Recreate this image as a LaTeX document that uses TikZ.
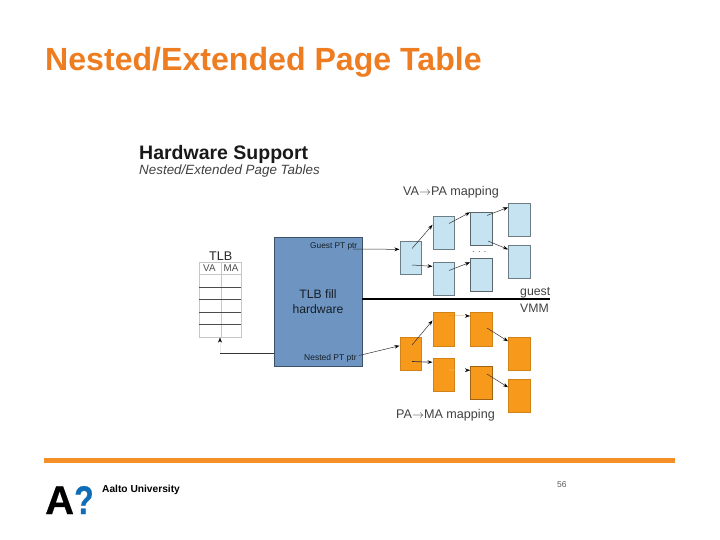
\documentclass[tikz,border=0pt]{standalone}
\usepackage{fontspec}
\usepackage{graphicx}
\setmainfont{Liberation Sans}
\newfontfamily\logofont[FakeBold=0.5]{Liberation Sans Bold}
\usetikzlibrary{arrows.meta,calc}
\definecolor{titleor}{HTML}{EE7D22}
\definecolor{baror}{HTML}{F59028}
\definecolor{pgblue}{HTML}{C6E3F1}
\definecolor{pgor}{HTML}{F79A1B}
\definecolor{fillblue}{HTML}{6E95C1}
\definecolor{logoblue}{HTML}{0F6CB6}
\tikzset{
  lbl/.style={inner sep=0pt,anchor=base west},
  pgbase/.style={inner sep=0pt,minimum width=21.5pt,minimum height=33pt,anchor=north west},
  bluepage/.style={pgbase,fill=pgblue,draw=black!45!pgblue,line width=0.7pt},
  orpage/.style={pgbase,fill=pgor,draw=black!15!pgor,line width=0.5pt},
  arr/.style={-{Stealth[length=5pt,width=3.6pt,black]},line width=0.5pt,draw=black!80},
  grid/.style={draw=black!22,line width=0.5pt},
  rowline/.style={draw=black!70,line width=0.5pt}
}
\begin{document}
\begin{tikzpicture}[x=1pt,y=-1pt]
\useasboundingbox (0,0) rectangle (720,540);
% slide frame
\node[lbl,font=\bfseries\fontsize{32.1}{34}\selectfont,text=titleor] (title) at (45,71) {Nested/Extended Page Table};
\fill[baror] (44,457.5) rectangle (675,463);
\node[lbl,font=\logofont\fontsize{40}{42}\selectfont] (logoa) at (45,514) {A};
\node[lbl,font=\logofont\fontsize{40}{42}\selectfont,text=logoblue] (logob) at (74,514) {\scalebox{0.8}[1]{?}};
\node[lbl,font=\bfseries\fontsize{10.2}{12}\selectfont] (aalto) at (102,492.5) {Aalto University};
\node[lbl,font=\fontsize{8.5}{10}\selectfont,text=black!65] (num) at (557,487) {56};
% heading
\node[lbl,font=\bfseries\fontsize{19.5}{21}\selectfont,text=black!90] (hw) at (139,160) {Hardware Support};
\node[lbl,font=\itshape\fontsize{13.4}{15}\selectfont,text=black!75] (sub) at (139,175) {Nested/Extended Page Tables};
% TLB
\node[lbl,font=\fontsize{12.6}{14}\selectfont,text=black!85] (tlbt) at (209,260.5) {TLB};
\node[lbl,font=\fontsize{9.8}{11}\selectfont,text=black!70] (va) at (203,271.5) {VA};
\node[lbl,font=\fontsize{9.8}{11}\selectfont,text=black!70] (ma) at (223.5,271.5) {MA};
\node[grid,inner sep=0pt,minimum width=42pt,minimum height=75pt,anchor=north west] (tlb) at (199,262) {};
\draw[grid] (221,262) -- (221,337);
\draw[grid] (199,274.5) -- (241,274.5);
\foreach \yy in {287,299,312,324} \draw[rowline] (199,\yy) -- (241,\yy);
% fill hardware
\node[draw=black!45!fillblue,fill=fillblue,line width=0.9pt,inner sep=0pt,minimum width=88pt,minimum height=129pt,anchor=north west] (fill) at (274,237) {};
\node[font=\fontsize{12.2}{15}\selectfont,align=center,text=black!80!fillblue,inner sep=0pt] (filltxt) at (318,301.5) {TLB fill\\hardware};
\node[lbl,font=\fontsize{8.3}{9}\selectfont,text=black!80!fillblue] (gptr) at (310,248) {Guest PT ptr};
\node[lbl,font=\fontsize{8.5}{9}\selectfont,text=black!80!fillblue] (nptr) at (304,360) {Nested PT ptr};
\coordinate (gs) at (353,249);
\coordinate (ns) at (359,355.5);
% divider
\coordinate (dl) at (362,299);
\coordinate (dr) at (550,299);
\draw[line width=2pt,black] (dl) -- (dr);
\node[lbl,font=\fontsize{12.3}{14}\selectfont,text=black!75] (guest) at (520,295.5) {guest};
\node[lbl,font=\fontsize{12.3}{14}\selectfont,text=black!75] (vmm) at (520,312) {VMM};
\node[lbl,font=\fontsize{12.6}{14}\selectfont,text=black!75] (vap) at (403,195.5) {VA$\rightarrow$PA mapping};
\node[lbl,font=\fontsize{12.6}{14}\selectfont,text=black!75] (pam) at (396,418.5) {PA$\rightarrow$MA mapping};
% blue pages
\node[bluepage] (l1) at (399.5,241) {};
\node[bluepage] (l2a) at (432.5,216) {};
\node[bluepage] (l2b) at (432.5,262) {};
\node[bluepage,draw=black!55!pgblue] (l3a) at (470,212) {};
\node[bluepage,draw=black!55!pgblue] (l3b) at (470,257.5) {};
\node[bluepage] (l4a) at (508,203) {};
\node[bluepage] (l4b) at (508,245) {};
\node[lbl,font=\fontsize{9}{10}\selectfont,text=black!70] (dots) at (472,252) {. . .};
% orange pages
\node[orpage] (o1) at (399.5,337) {};
\node[orpage,minimum height=34.5pt] (o2a) at (432.5,311.5) {};
\node[orpage] (o2b) at (432.5,358) {};
\node[orpage,minimum height=34.5pt] (o3a) at (470,311.5) {};
\node[orpage,draw=black!35!pgor] (o3b) at (470,366) {};
\node[orpage] (o4a) at (508,337) {};
\node[orpage] (o4b) at (508,379) {};
% arrow starts inside pages
\coordinate (a1) at (412,248.5);
\coordinate (a2) at (412,265);
\coordinate (a3) at (449,223.5);
\coordinate (a4) at (449,270.5);
\coordinate (a5) at (487,215.5);
\coordinate (a6) at (488,241);
\coordinate (b1) at (412,345);
\coordinate (b2) at (412,361.5);
\coordinate (b3) at (449,315.5);
\coordinate (b4) at (449,370);
\coordinate (b5) at (487,328);
\coordinate (b6) at (487,374);
\coordinate (ts) at (220,353);
% connectors
\draw[arr] (gs) -- ([yshift=8.5pt]l1.west);
\draw[arr] (a1) -- ([yshift=8pt]l2a.west);
\draw[arr] (a2) -- ([yshift=12.5pt]l2b.west);
\draw[arr] (a3) -- ([yshift=16.5pt]l3a.west);
\draw[arr] (a4) -- ([yshift=12pt]l3b.west);
\draw[arr] (a5) -- ([yshift=12.5pt]l4a.west);
\draw[arr] (a6) -- ([yshift=12.5pt]l4b.west);
\draw[arr] (ns) -- ([yshift=8pt]o1.west);
\draw[arr] (b1) -- ([yshift=8.5pt]o2a.west);
\draw[arr,line width=0.7pt] (b2) -- ([yshift=12.5pt]o2b.west);
\draw[arr,line width=0.2pt,draw=black!15!pgor] (b3) -- ([yshift=13pt]o3a.west);
\draw[arr,line width=0.2pt,draw=black!10] (b4) -- ([yshift=12.5pt]o3b.west);
\draw[arr] (b5) -- ([yshift=12.5pt]o4a.west);
\draw[arr] (b6) -- ([yshift=8.5pt]o4b.west);
\draw[line width=0.6pt,draw=black!80] (fill.west |- ts) -- (ts);
\draw[arr,line width=0.1pt,draw=black!8] (ts) -- (tlb.south -| ts);
\end{tikzpicture}
\end{document}
